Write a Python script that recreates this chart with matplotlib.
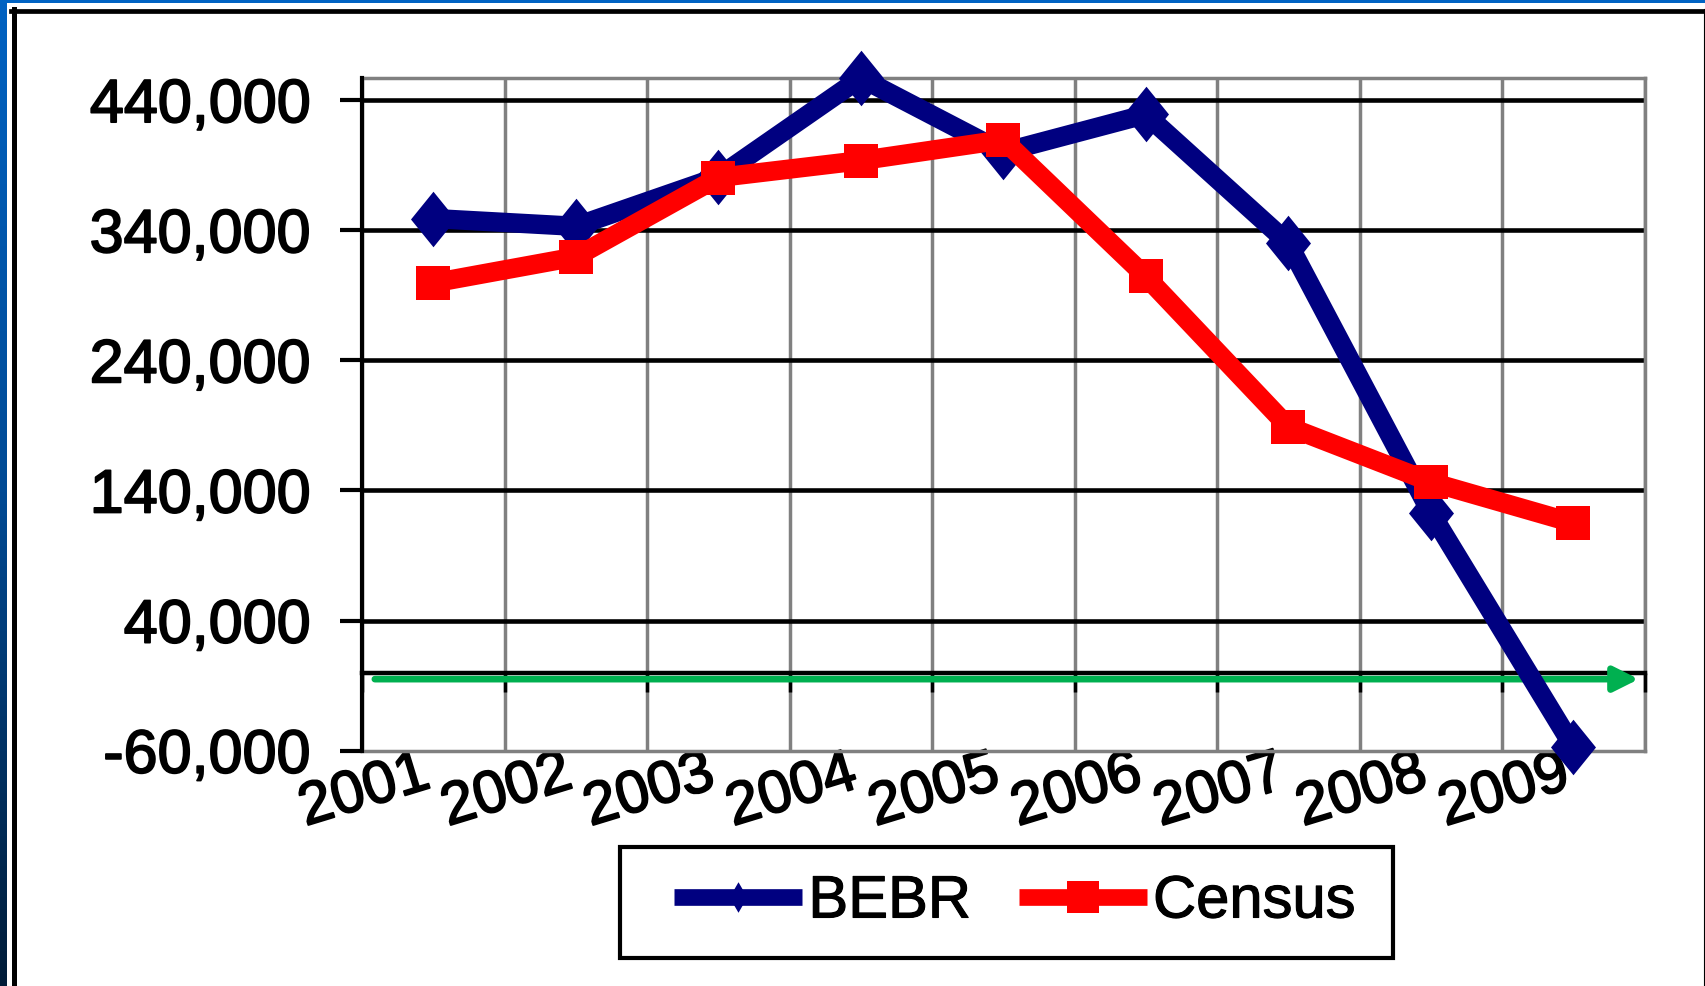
import numpy as np
import matplotlib
matplotlib.use('Agg')
import matplotlib.pyplot as plt
import matplotlib.patheffects as pe
import matplotlib.transforms as mtransforms
from matplotlib.path import Path
from matplotlib.lines import Line2D
from matplotlib.patches import Rectangle
from matplotlib.colors import LinearSegmentedColormap

# ---------------- data ----------------
years = ['2001', '2002', '2003', '2004', '2005', '2006', '2007', '2008', '2009']
bebr = [349000, 343000, 381000, 457000, 400000, 429000, 330000, 123000, -57000]
census = [299500, 319500, 380500, 393500, 409500, 304500, 189000, 146500, 115000]
y_ticks = [-60000, 40000, 140000, 240000, 340000, 440000]
y_min, y_max = -60000, 457000
arrow_level = -5000
arrow_start, arrow_end = -0.41, 8.46

plt.rcParams['font.family'] = ['Liberation Sans', 'DejaVu Sans']

W, H = 1705, 987
fig = plt.figure(figsize=(W / 100, H / 100), dpi=100)
fig.patch.set_facecolor('white')

# plot area (pixel layout)
L, R, T, B = 362, 1644.5, 79, 751.7
ax = fig.add_axes([L / W, 1 - B / H, (R - L) / W, (B - T) / H])

x = np.arange(len(years))
boundaries = np.arange(-0.5, len(years), 1.0)

diamond = Path([(0, 1), (0.81, 0), (0, -1), (-0.81, 0), (0, 1)],
               [Path.MOVETO, Path.LINETO, Path.LINETO, Path.LINETO, Path.CLOSEPOLY])
diamond_leg = Path([(0, 1), (0.58, 0), (0, -1), (-0.58, 0), (0, 1)],
                   [Path.MOVETO, Path.LINETO, Path.LINETO, Path.LINETO, Path.CLOSEPOLY])

navy = '#000080'
red = '#FF0000'
green = '#00B050'
gray = '#808080'
thick = [pe.withStroke(linewidth=1.3, foreground='black')]

ax.plot(x, bebr, color=navy, lw=14, marker=diamond, markersize=40, mew=0,
        solid_joinstyle='round', solid_capstyle='round', clip_on=False, zorder=5)
ax.plot(x, census, color=red, lw=14, marker='s', markersize=24.5, mew=0,
        solid_joinstyle='round', solid_capstyle='butt', clip_on=False, zorder=6)

ax.set_xlim(-0.5, len(years) - 0.5)
ax.set_ylim(y_min, y_max)

# y axis
ax.set_yticks(y_ticks, labels=[f'{v:,}' for v in y_ticks])
ax.tick_params(axis='y', which='major', length=16, width=3, color='black',
               direction='out', pad=21, labelsize=44, labelcolor='black')
for lab in ax.get_yticklabels():
    lab.set_path_effects(thick)

# x axis labels
ax.set_xticks(x, labels=years)
ax.tick_params(axis='x', which='major', length=0, pad=-3.5, labelsize=43)
shift = mtransforms.ScaledTranslation(-13 / 100, 0, fig.dpi_scale_trans)
for lab in ax.get_xticklabels():
    lab.set_rotation(17)
    lab.set_ha('right')
    lab.set_va('top')
    lab.set_rotation_mode('anchor')
    lab.set_transform(lab.get_transform() + shift)
    lab.set_path_effects(thick)
ax.set_xticks(boundaries, minor=True)
ax.tick_params(axis='x', which='minor', length=0)

# grids
ax.grid(False)
ax.xaxis.grid(True, which='minor', color=gray, lw=2.5)
ax.yaxis.grid(True, which='major', color='black', lw=3.3)
ax.yaxis.get_major_ticks()[0].gridline.set_visible(False)
ax.set_axisbelow(True)

for s in ['top', 'right', 'bottom']:
    ax.spines[s].set_color(gray)
    ax.spines[s].set_linewidth(2.5)
ax.spines['left'].set_color('black')
ax.spines['left'].set_linewidth(3)
ax.spines['left'].set_zorder(7)

# zero-crossing category axis with tick marks at boundaries
frac = (0 - y_min) / (y_max - y_min)
sec = ax.secondary_xaxis(frac)
sec.set_xticks(boundaries)
sec.tick_params(axis='x', length=14, width=2.5, color='black', direction='out',
                labelbottom=False, labeltop=False)
sec.spines['bottom'].set_color('black')
sec.spines['bottom'].set_linewidth(3.2)
sec.set_zorder(3)

# green arrow
ax.annotate('', xy=(arrow_end, arrow_level), xytext=(arrow_start, arrow_level),
            arrowprops=dict(arrowstyle='-|>,head_length=0.75,head_width=0.375',
                            mutation_scale=20, color=green, lw=4.8,
                            shrinkA=0, shrinkB=0),
            zorder=4)

# legend
h1 = Line2D([], [], color=navy, lw=12, marker=diamond_leg, markersize=22, mew=0,
            solid_capstyle='butt')
h2 = Line2D([], [], color=red, lw=12, marker='s', markersize=23, mew=0,
            solid_capstyle='butt')
leg = fig.legend([h1, h2], ['BEBR', 'Census'], loc='center left',
                 bbox_to_anchor=(674 / W, 1 - 903 / H), ncol=2, frameon=False,
                 fontsize=43, handlelength=2.15, handletextpad=0.1,
                 columnspacing=0.8, borderpad=0, borderaxespad=0)
for t in leg.get_texts():
    t.set_path_effects([pe.withStroke(linewidth=0.8, foreground='black')])
fig.add_artist(Rectangle((620 / W, 1 - 959 / H), (1393 - 620) / W, (959 - 848) / H,
                         transform=fig.transFigure, fill=False, ec='black', lw=3))

# outer frame decorations
fig.add_artist(Rectangle((0, 1 - 4 / H), 1, 4 / H, transform=fig.transFigure,
                         color='#0063C3', lw=0))
axg = fig.add_axes([0, 0, 7 / W, 1])
grad = np.linspace(0, 1, 256).reshape(-1, 1)
cmap = LinearSegmentedColormap.from_list('bl', ['#0062C2', '#004A94', '#001C38'])
axg.imshow(grad, aspect='auto', cmap=cmap, extent=[0, 1, 0, 1], origin='upper')
axg.axis('off')
fig.add_artist(Line2D([13.5 / W, 13.5 / W], [0, 1 - 10 / H], transform=fig.transFigure,
                      color='black', lw=3.6))
fig.add_artist(Line2D([11 / W, 1], [1 - 11.7 / H, 1 - 11.7 / H], transform=fig.transFigure,
                      color='black', lw=3.4))
fig.add_artist(Line2D([1704 / W, 1704 / W], [0, 1 - 10 / H], transform=fig.transFigure,
                      color='black', lw=0.8))

fig.savefig('out.png', dpi=100)
